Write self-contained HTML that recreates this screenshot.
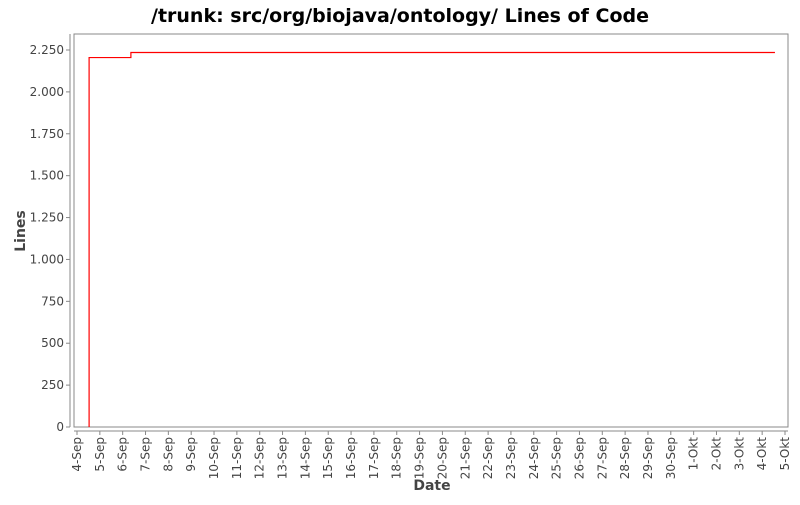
<!DOCTYPE html>
<html><head><meta charset="utf-8"><style>
body{margin:0;background:#fff;}
svg text{font-family:"DejaVu Sans","Liberation Sans",sans-serif;}
</style></head><body>
<svg id="chart" width="800" height="500" xmlns="http://www.w3.org/2000/svg">
<text x="400" y="22" text-anchor="middle" font-size="19" font-weight="bold" fill="#000">/trunk: src/org/biojava/ontology/ Lines of Code</text>
<rect x="74" y="34" width="714" height="393" fill="#fff" stroke="#888" stroke-width="1"/>
<line x1="70" y1="34" x2="70" y2="427" stroke="#888"/>
<line x1="74" y1="431" x2="788" y2="431" stroke="#888"/>
<g id="yticks"></g><g id="xticks"></g><g id="series"></g>
<text x="432" y="490" text-anchor="middle" font-size="14" font-weight="bold" fill="#444">Date</text>
<text transform="translate(25,231) rotate(-90)" text-anchor="middle" font-size="14" font-weight="bold" fill="#444">Lines</text>
</svg>
<script>
const yTicks=[0,250,500,750,1000,1250,1500,1750,2000,2250];
const yTickLabels=["0","250","500","750","1.000","1.250","1.500","1.750","2.000","2.250"];
const xLabels=["4-Sep","5-Sep","6-Sep","7-Sep","8-Sep","9-Sep","10-Sep","11-Sep","12-Sep","13-Sep","14-Sep","15-Sep","16-Sep","17-Sep","18-Sep","19-Sep","20-Sep","21-Sep","22-Sep","23-Sep","24-Sep","25-Sep","26-Sep","27-Sep","28-Sep","29-Sep","30-Sep","1-Okt","2-Okt","3-Okt","4-Okt","5-Okt"];
const dataDays=[0.53,2.36,30.56];
const dataLines=[2205,2235,2235];
const NS="http://www.w3.org/2000/svg";
const xS=d=>77+d*(785-77)/31;
const yS=v=>427-v*(427-50)/2250;
const yg=document.getElementById('yticks'),xg=document.getElementById('xticks'),sg=document.getElementById('series');
function mk(t,a){const e=document.createElementNS(NS,t);for(const k in a)e.setAttribute(k,a[k]);return e;}
yTicks.forEach((v,i)=>{
 const l=mk('line',{x1:66,x2:70,y1:yS(v),y2:yS(v),stroke:'#888'});
 
 
 yg.appendChild(l);
 const t=mk('text',{x:64,y:yS(v)+4,'text-anchor':'end','font-size':12,fill:'#444'});
 t.textContent=yTickLabels[i];
 
 
 yg.appendChild(t);
});
xLabels.forEach((s,i)=>{
 const x=xS(i);
 const l=mk('line',{x1:x,x2:x,y1:431,y2:435,stroke:'#888'});
 
 
 xg.appendChild(l);
 const t=mk('text',{transform:`translate(${x+4},437) rotate(-90)`,'text-anchor':'end','font-size':12,'textLength':'','fill':'#444'});
 t.removeAttribute('textLength');
 t.textContent=s;
 
 
 xg.appendChild(t);
});
let d=`M${xS(dataDays[0])},${yS(0)}`;
dataDays.forEach((dd,i)=>{
 if(i>0) d+=` L${xS(dd)},${yS(dataLines[i-1])}`;
 d+=` L${xS(dd)},${yS(dataLines[i])}`;
});
const p=mk('path',{d:d,fill:'none',stroke:'#f00','stroke-width':1.2});


sg.appendChild(p);
</script>
</body></html>
